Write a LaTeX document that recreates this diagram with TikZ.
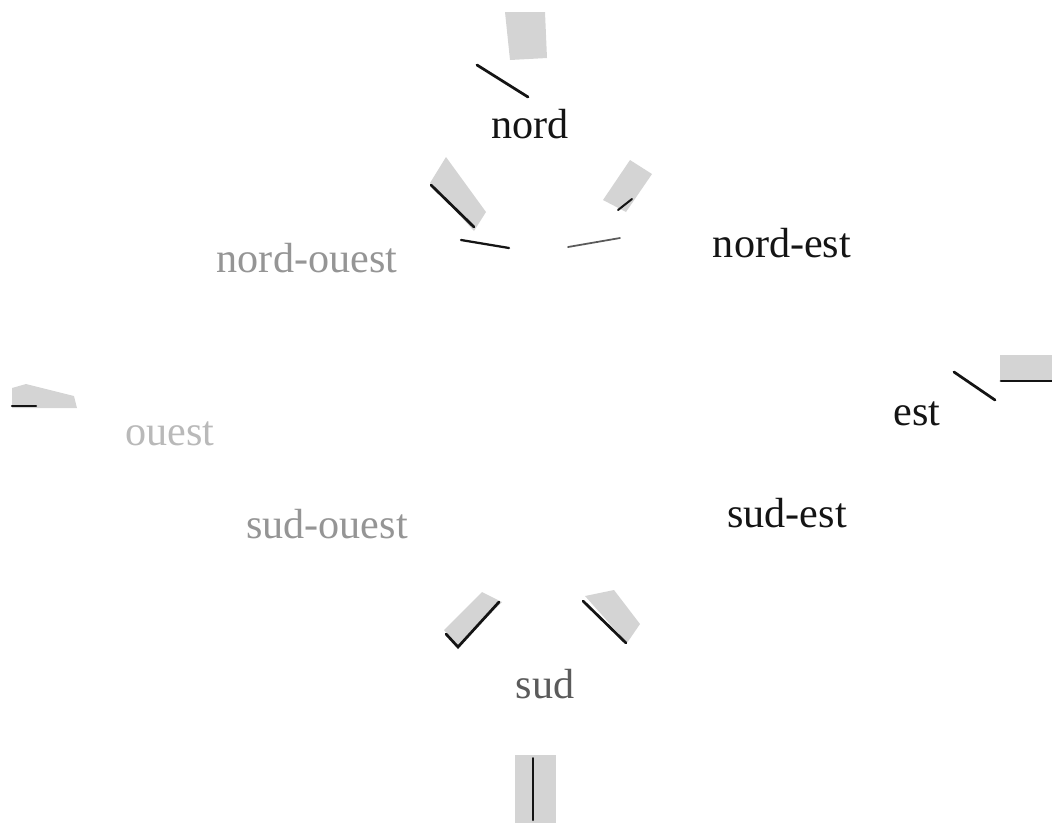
\documentclass[tikz,border=0pt]{standalone}
\usepackage{fontspec}
\setmainfont{Liberation Serif}
\usepackage{xcolor}
\usepackage{tikz}
\definecolor{mydark}{RGB}{20,20,20}
\definecolor{myshade}{RGB}{212,212,212}
\tikzset{
  label/.style={anchor=base, inner sep=0pt, text=mydark,
    font=\fontsize{24}{28}\selectfont},
  faded/.style={label, text=mydark!45},
  shade/.style={fill=myshade, draw=none},
  edge/.style={draw=mydark, line width=0.055cm, line cap=round}
}

\begin{document}
\begin{tikzpicture}[x=0.02cm, y=-0.02cm]
  \useasboundingbox (0,0) rectangle (1052,823);

  % Labels
  \node[label] (nord) at (530,138) {nord};
  \node[label] (nordest) at (782,257) {nord-est};
  \node[faded] (nordouest) at (307,272) {nord-ouest};
  \node[label] (est) at (917,425) {est};
  \node[faded, text=mydark!30] (ouest) at (170,445) {ouest};
  \node[label] (sudest) at (787,527) {sud-est};
  \node[faded] (sudouest) at (327,538) {sud-ouest};
  \node[faded, text=mydark!70] (sud) at (545,698) {sud};

  % Nord
  \fill[shade] (505,12) -- (545,12) -- (547,58) -- (510,60) -- cycle;
  \draw[edge] (477,65) -- (528,97);

  % Nord-ouest
  \fill[shade] (430,183) -- (446,157) -- (486,212) -- (474,231) -- cycle;
  \draw[edge] (431,185) -- (474,227);
  \draw[edge, line width=0.045cm] (461,240) -- (509,248);

  % Nord-est
  \fill[shade] (603,200) -- (630,160) -- (652,174) -- (626,212) -- cycle;
  \draw[edge, line width=0.04cm] (618,210) -- (632,199);
  \draw[edge, line width=0.035cm, draw=mydark!70] (568,247) -- (620,238);

  % Est
  \fill[shade] (1000,355) rectangle (1052,381);
  \draw[edge] (1001,381) -- (1052,381);
  \draw[edge] (954,372) -- (995,400);

  % Ouest
  \fill[shade] (12,388) -- (26,384) -- (74,396) -- (77,408) -- (12,408) -- cycle;
  \draw[edge, line width=0.045cm] (12,406) -- (36,406);

  % Sud-ouest
  \fill[shade] (444,630) -- (482,592) -- (502,602) -- (458,647) -- cycle;
  \draw[edge] (446,634) -- (458,647) -- (499,602);

  % Sud-est
  \fill[shade] (585,596) -- (614,590) -- (640,624) -- (627,643) -- cycle;
  \draw[edge] (583,601) -- (626,643);

  % Sud
  \fill[shade] (515,755) rectangle (556,823);
  \draw[edge, line width=0.04cm] (533,758) -- (533,820);
\end{tikzpicture}
\end{document}
